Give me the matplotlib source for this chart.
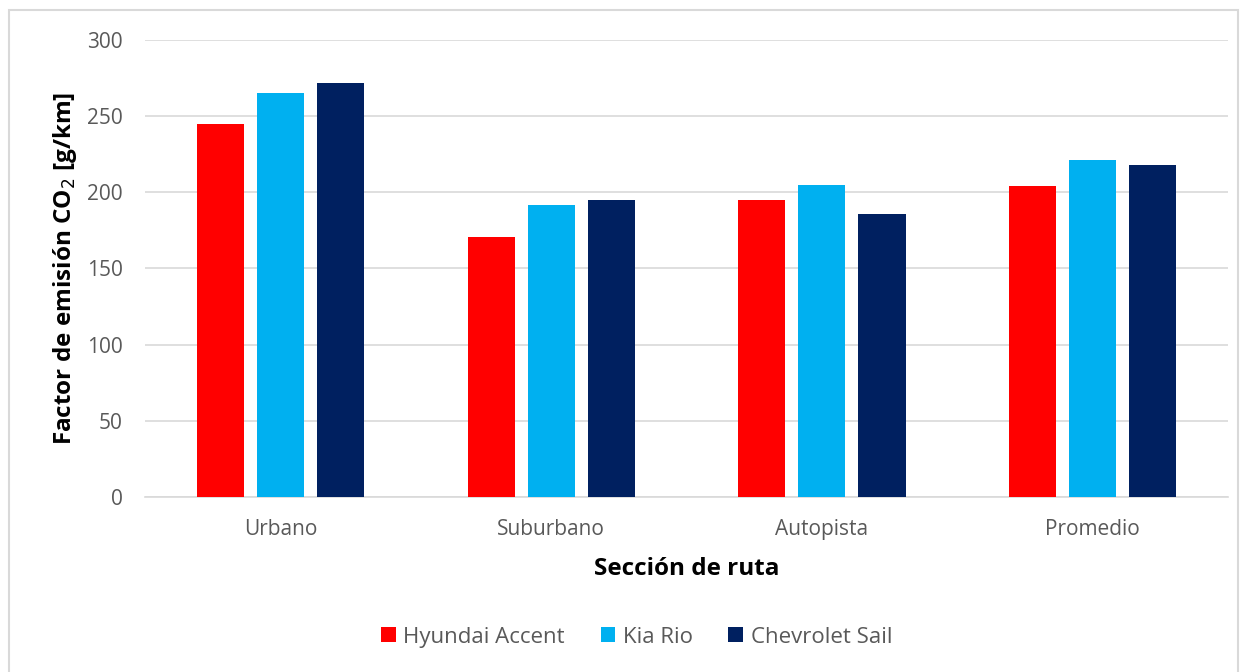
import numpy as np
import matplotlib
matplotlib.use("Agg")
import matplotlib.pyplot as plt
from matplotlib.patches import Rectangle

plt.rcParams['font.family'] = ['Open Sans', 'DejaVu Sans']

secciones = ["Urbano", "Suburbano", "Autopista", "Promedio"]
hyundai_accent = [245, 171, 195, 204]
kia_rio = [265, 192, 205, 221]
chevrolet_sail = [272, 195, 186, 218]

series = [
    ("Hyundai Accent", hyundai_accent, "#FF0000"),
    ("Kia Rio", kia_rio, "#00B0F0"),
    ("Chevrolet Sail", chevrolet_sail, "#002060"),
]

fig = plt.figure(figsize=(12.46, 6.72), dpi=100)
ax = fig.add_axes([0.1164, 0.2604, 0.8692, 0.6801])

x = np.arange(len(secciones))
ancho = 0.174
paso = 0.222
for i, (nombre, valores, color) in enumerate(series):
    ax.bar(x + (i - 1) * paso, valores, ancho, color=color, label=nombre, zorder=3)

ax.set_xlim(-0.5, len(secciones) - 0.5)
ax.set_ylim(0, 300)
ax.set_yticks(range(0, 301, 50))
ax.set_xticks(x)
ax.set_xticklabels(secciones)
ax.grid(axis='y', color='#D9D9D9', linewidth=1.2, zorder=0)
for lado in ['top', 'right', 'left']:
    ax.spines[lado].set_visible(False)
ax.spines['bottom'].set_color('#D9D9D9')
ax.spines['bottom'].set_linewidth(1.2)
ax.tick_params(axis='both', length=0, labelsize=15, labelcolor='#595959')
ax.tick_params(axis='y', pad=16)
ax.tick_params(axis='x', pad=16)

ax.set_xlabel("Sección de ruta", fontsize=17.5, fontweight='bold', labelpad=12)
ax.set_ylabel("Factor de emisión CO$_2$ [g/km]", fontsize=17.5, fontweight='bold', labelpad=6)

leg = fig.legend(loc='center', bbox_to_anchor=(0.511, 0.052), ncol=3, frameon=False,
                 fontsize=16, handlelength=0.65, handleheight=0.65, handletextpad=0.35,
                 columnspacing=1.6)
for t in leg.get_texts():
    t.set_color('#595959')

fig.patches.append(Rectangle((9 / 1246, -0.01), 1229 / 1246, 1 - 10 / 672 + 0.01,
                             transform=fig.transFigure, fill=False,
                             edgecolor='#D9D9D9', linewidth=1.5))

fig.savefig("out.png", dpi=100)
